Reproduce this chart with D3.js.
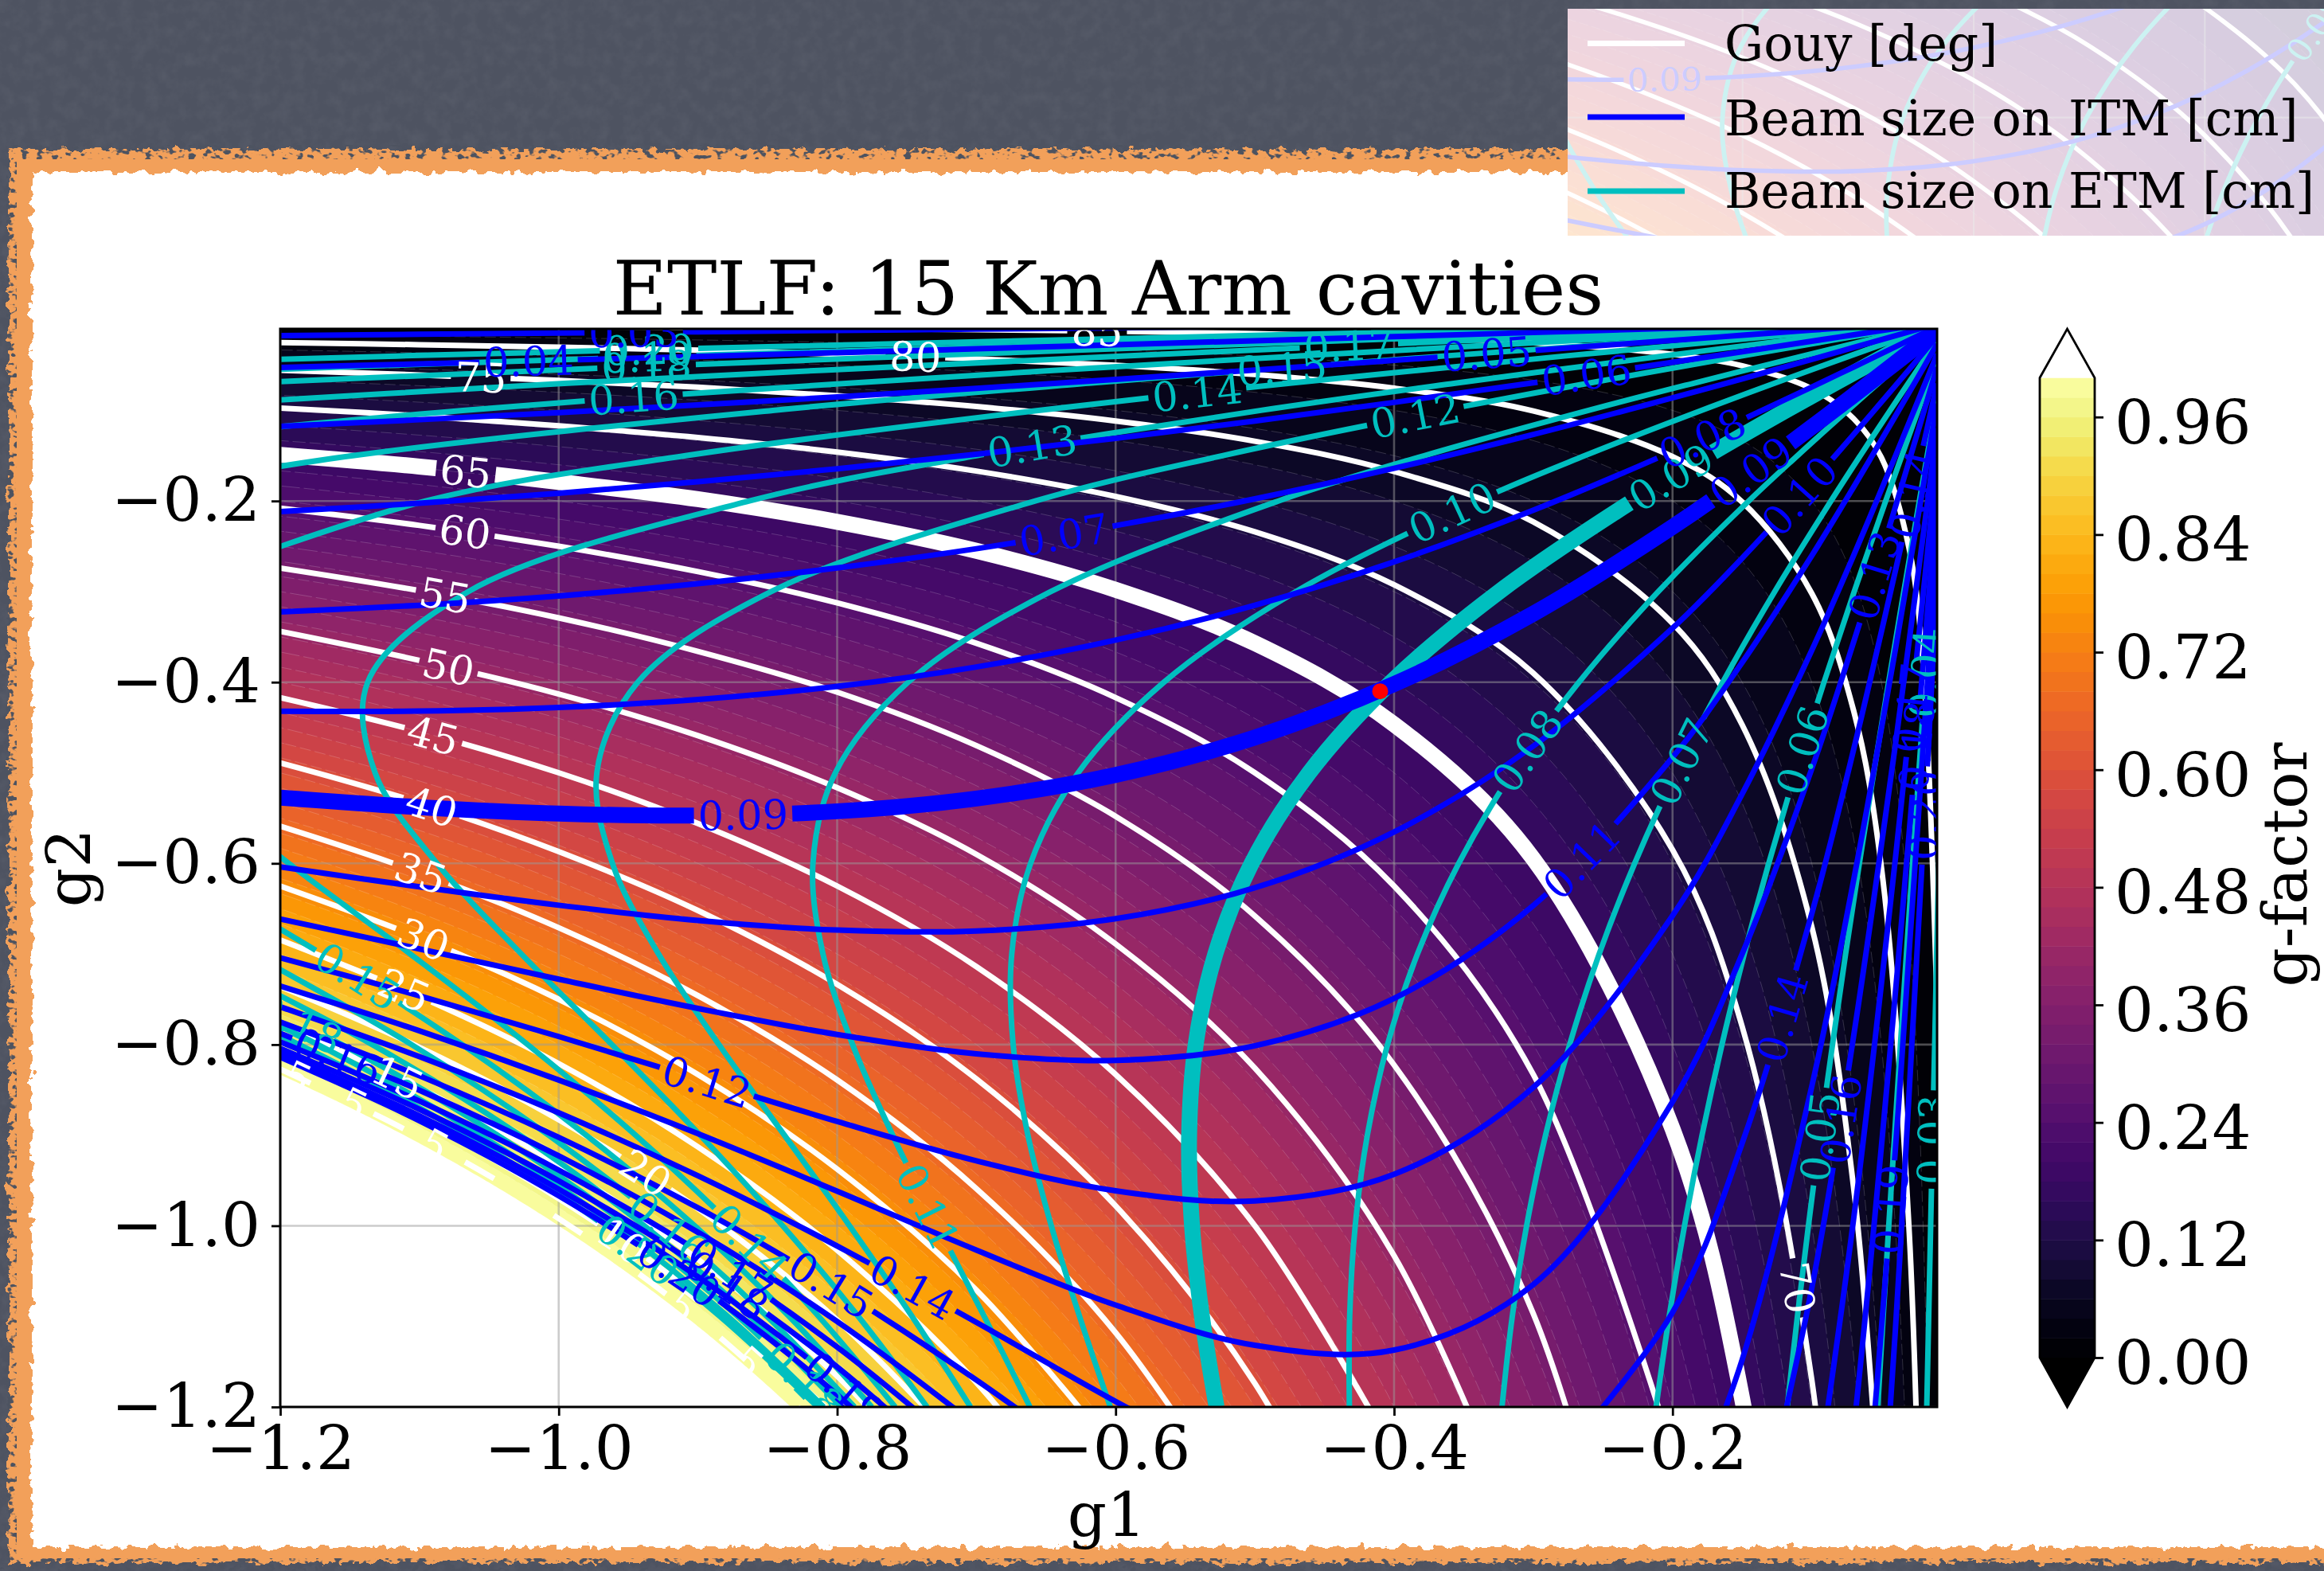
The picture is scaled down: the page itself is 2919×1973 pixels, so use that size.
<!DOCTYPE html>
<html>
<head>
<meta charset="utf-8">
<script src="https://cdn.jsdelivr.net/npm/d3@7"></script>
<style>
html,body{margin:0;padding:0;background:#4e5361;}
svg{display:block;}
text{font-family:"DejaVu Serif",serif;}
</style>
</head>
<body>
<svg id="chart" width="2919" height="1973"></svg>
<script>
///// chart data

//g-factor readings on a coarse g1/g2 grid, rows go from g2=-1.2 up to g2=-0.01
var gridG1=[-1.2,-1.1,-1.0,-0.9,-0.8,-0.7,-0.6,-0.5,-0.4,-0.3,-0.2,-0.1,-0.01];
var gridG2=[-1.2,-1.1,-1.0,-0.9,-0.8,-0.7,-0.6,-0.5,-0.4,-0.3,-0.2,-0.1,-0.01];
var gFactor=[
[1.44,1.32,1.2,1.08,.96,.84,.72,.6,.48,.36,.24,.12,.012],
[1.32,1.21,1.1,.99,.88,.77,.66,.55,.44,.33,.22,.11,.011],
[1.2,1.1,1,.9,.8,.7,.6,.5,.4,.3,.2,.1,.01],
[1.08,.99,.9,.81,.72,.63,.54,.45,.36,.27,.18,.09,.009],
[.96,.88,.8,.72,.64,.56,.48,.4,.32,.24,.16,.08,.008],
[.84,.77,.7,.63,.56,.49,.42,.35,.28,.21,.14,.07,.007],
[.72,.66,.6,.54,.48,.42,.36,.3,.24,.18,.12,.06,.006],
[.6,.55,.5,.45,.4,.35,.3,.25,.2,.15,.1,.05,.005],
[.48,.44,.4,.36,.32,.28,.24,.2,.16,.12,.08,.04,.004],
[.36,.33,.3,.27,.24,.21,.18,.15,.12,.09,.06,.03,.003],
[.24,.22,.2,.18,.16,.14,.12,.1,.08,.06,.04,.02,.002],
[.12,.11,.1,.09,.08,.07,.06,.05,.04,.03,.02,.01,.001],
[.012,.011,.01,.009,.008,.007,.006,.005,.004,.003,.002,.001,.0001]
];
var bandLevels=[0,.02,.04,.06,.08,.1,.12,.14,.16,.18,.2,.22,.24,.26,.28,.3,.32,.34,.36,.38,.4,.42,.44,.46,.48,.5,.52,.54,.56,.58,.6,.62,.64,.66,.68,.7,.72,.74,.76,.78,.8,.82,.84,.86,.88,.9,.92,.94,.96,.98];

//Gouy contours: |g2| at the |g1| positions in gouyAt
var gouyAt=[1.2,1.1,1.0,.9,.8,.7,.6,.5,.4,.3,.2,.15,.1,.07,.05,.03,.02,.01];
var gouy05=[.827,.902,.992,1.103,1.2405];
var gouy10=[.808,.882,.970,1.078,1.212];
var gouy15=[.7775,.848,.933,1.037,1.166,1.333];
var gouy20=[.736,.803,.883,.981,1.104,1.261];
var gouy25=[.6845,.747,.821,.913,1.027,1.173,1.369];
var gouy30=[.625,.682,.75,.833,.9375,1.071,1.25];
var gouy35=[.559,.610,.671,.746,.839,.959,1.118,1.342];
var gouy40=[.489,.533,.587,.652,.7335,.838,.978,1.174,1.467];
var gouy45=[.417,.4545,.5,.556,.625,.714,.833,1.0,1.25];
var gouy50=[.344,.376,.413,.459,.5165,.590,.689,.826,1.033,1.377];
var gouy55=[.274,.299,.329,.366,.411,.470,.548,.658,.8225,1.097,1.645];
var gouy60=[.208,.227,.25,.278,.3125,.357,.417,.5,.625,.833,1.25];
var gouy65=[.149,.162,.179,.198,.223,.255,.298,.357,.4465,.595,.893,1.191,1.786];
var gouy70=[.0975,.106,.117,.130,.146,.167,.195,.234,.2925,.39,.585,.78,1.17,1.671];
var gouy75=[.0558,.0609,.067,.0744,.0838,.0957,.1117,.134,.1675,.223,.335,.447,.67,.957,1.34];
var gouy80=[.0252,.0275,.0302,.0336,.0378,.0431,.0503,.0604,.0755,.1007,.151,.201,.302,.431,.604,1.007,1.51];
var gouy85=[.0063,.0069,.0076,.0084,.0095,.0109,.0127,.0152,.019,.0253,.038,.0507,.076,.109,.152,.253,.38,.76];
var gouyLevels=[5,10,15,20,25,30,35,40,45,50,55,60,65,70,75,80,85];
var gouySeries=[gouy05,gouy10,gouy15,gouy20,gouy25,gouy30,gouy35,gouy40,gouy45,gouy50,gouy55,gouy60,gouy65,gouy70,gouy75,gouy80,gouy85];

//beam size contours. ITM curve: |g1|=beamAt, |g2|=value. the ETM curves are the same
//numbers with the axes swapped, the two families mirror each other in the picture.
//null = off the plot
var beamAt=[1.2,1.1,1.0,.9,.8,.7,.6,.5,.4,.3,.2,.15,.1,.07,.04,.02,.01];
var beam03=[.0174,.0160,.0146,.0132,.0117,.0103,.0088,.0074,.0059,.0044,.0030,.0022,.0015,.0010,.0006,.0003,.0001];
var beam04=[.0526,.0487,.0447,.0405,.0363,.0320,.0276,.0231,.0186,.0140,.0093,.0070,.0047,.0033,.0019,.0009,.0005];
var beam05=[.1176,.1103,.1024,.0940,.0851,.0757,.0658,.0555,.0448,.0339,.0227,.0171,.0114,.0080,.0046,.0023,.0011];
var beam06=[.2118,.2024,.1914,.1788,.1645,.1485,.1309,.1117,.0912,.0695,.0469,.0353,.0236,.0166,.0095,.0047,.0024];
var beam07=[.3225,.3151,.3048,.2912,.2739,.2527,.2272,.1976,.1639,.1266,.0862,.0652,.0437,.0306,.0175,.0088,.0044];
var beam08=[.4321,.4319,.4279,.4192,.4047,.3832,.3536,.3151,.2672,.2102,.1453,.1103,.0742,.0522,.0299,.0150,.0075];
var beam09=[.5275,.5380,.5451,.5472,.5425,.5284,.5023,.4610,.4021,.3244,.2286,.1750,.1184,.0834,.0478,.0240,.0120];
var beam10=[.6038,.6259,.6462,.6630,.6736,.6746,.6611,.6269,.5653,.4705,.3404,.2631,.1793,.1267,.0728,.0365,.0183];
var beam11=[.6615,.6944,.7278,.7601,.7889,.8102,.8174,.8013,.7490,.6465,.4831,.3783,.2604,.1848,.1065,.0534,.0267];
var beam12=[.7042,.7462,.7911,.8379,.8849,.9283,.9614,.9726,.9432,.8473,.6577,.5234,.3649,.2603,.1506,.0756,.0379];
var beam13=[.7354,.7848,.8391,.8984,.9618,1.0268,1.0875,1.1319,1.1372,1.0649,.8631,.7001,.4957,.3560,.2069,.1041,.0522];
var beam14=[.7583,.8133,.8752,.9448,1.0223,1.1066,1.1939,1.2738,null,1.2901,1.0956,.9089,.6555,.4748,.2775,.1399,.0702];
var beam15=[.7751,.8345,.9024,.9802,1.0693,1.1702,1.2816,null,null,null,1.3498,1.1479,.8463,.6191,.3644,.1842,.0924];
var beam16=[.7876,.8504,.9229,1.0072,1.1057,1.2204,null,null,null,null,null,1.4143,1.0689,.7914,.4697,.2382,.1196];
var beam17=[.7970,.8624,.9385,1.0279,1.1339,1.2600,null,null,null,null,null,null,1.3234,.9934,.5956,.3032,.1523];
var beam18=[.8042,.8715,.9504,1.0439,1.1558,1.2911,null,null,null,null,null,null,1.6087,1.2268,.7440,.3805,.1913];
var beam19=[.8097,.8786,.9597,1.0563,1.1730,1.3157,null,null,null,null,null,null,null,1.4919,.9171,.4715,.2374];
var beam20=[.8140,.8841,.9669,1.0660,1.1865,1.3353,null,null,null,null,null,null,null,1.7891,1.1166,.5776,.2914];
var beamLevels=[.03,.04,.05,.06,.07,.08,.09,.10,.11,.12,.13,.14,.15,.16,.17,.18,.19,.20];
var beamSeries=[beam03,beam04,beam05,beam06,beam07,beam08,beam09,beam10,beam11,beam12,beam13,beam14,beam15,beam16,beam17,beam18,beam19,beam20];

//inline contour labels: level, g1, g2
var gouyLabels=[[85,-.614,-.0124],[80,-.743,-.0406],[75,-1.057,-.0634],[70,-.109,-1.07],[65,-1.068,-.167],[60,-1.068,-.234],[55,-1.08,-.305],[50,-1.08,-.383],[45,-1.091,-.458],[40,-1.091,-.538],[35,-1.098,-.611],[30,-1.098,-.683],[25,-1.112,-.739],[20,-.937,-.942],[15,-1.116,-.836],[10,-.955,-1.016],[5,-1.187,-.836],[5,-1.148,-.864],[5,-1.088,-.912],[5,-.911,-1.089],[5,-.864,-1.149]];
var itmLabels=[[.03,-.947,-.0137],[.04,-1.02,-.045],[.05,-.335,-.038],[.06,-.262,-.061],[.07,-.636,-.237],[.08,-.178,-.13],[.09,-.866,-.547],[.09,-.143,-.168],[.10,-.11,-.196],[.11,-.27,-.59],[.12,-.893,-.838],[.13,-.059,-.282],[.14,-.743,-1.065],[.14,-.12,-.77],[.14,-.0275,-.19],[.15,-.803,-1.065],[.16,-1.158,-.815],[.16,-.082,-.883],[.17,-.875,-1.05],[.17,-.03,-.43],[.18,-.88,-1.066],[.18,-.025,-.47],[.19,-.795,-1.18],[.19,-.043,-.98],[.20,-.913,-1.05],[.20,-.019,-.545]];
var etmLabels=[[.03,-.0133,-.906],[.04,-.0188,-.391],[.05,-.0934,-.904],[.06,-.1075,-.473],[.07,-.193,-.487],[.08,-.305,-.476],[.09,-.20,-.174],[.10,-.358,-.212],[.11,-.733,-.979],[.12,-.384,-.102],[.13,-.66,-.137],[.14,-.54,-.079],[.14,-.862,-1.018],[.15,-.48,-.051],[.15,-1.14,-.718],[.16,-.947,-.083],[.16,-.92,-1.0],[.17,-.432,-.029],[.18,-.936,-.05],[.18,-1.186,-.771],[.18,-.824,-1.17],[.19,-.936,-.041],[.20,-.936,-.032],[.20,-.945,-1.03]];

var axisTicks=[-1.2,-1.0,-0.8,-0.6,-0.4,-0.2];
var colorbarTicks=[0,.12,.24,.36,.48,.6,.72,.84,.96];
var designPoint=[-.41,-.41];
var legendLabels=["Gouy [deg]","Beam size on ITM [cm]","Beam size on ETM [cm]"];

///some constance:
var blue="#0000ff",cyan="#00bfbf",thin=7,thick=20,labelSize=51,tickSize=77;
var plot={left:352,right:2433,top:413,bottom:1767};
var svg=d3.select("#chart");
var defs=svg.append("defs");

var x=d3.scaleLinear().domain([-1.2,-0.01]).range([plot.left,plot.right]);
var y=d3.scaleLinear().domain([-1.2,-0.01]).range([plot.bottom,plot.top]);

/////slide background and torn frame
var noise=defs.append("filter").attr("id","chalk").attr("x",0).attr("y",0).attr("width",1).attr("height",1);
noise.append("feTurbulence").attr("type","fractalNoise").attr("baseFrequency","0.06").attr("numOctaves",4).attr("seed",4);
noise.append("feColorMatrix").attr("values","0 0 0 0 1  0 0 0 0 1  0 0 0 0 1  .9 0 0 0 -.33");
var rough=defs.append("filter").attr("id","rough").attr("x","-2%").attr("y","-2%").attr("width","104%").attr("height","104%");
rough.append("feTurbulence").attr("type","fractalNoise").attr("baseFrequency","0.07").attr("numOctaves",3).attr("seed",9).attr("result","n");
rough.append("feDisplacementMap").attr("in","SourceGraphic").attr("in2","n").attr("scale",16).attr("xChannelSelector","R").attr("yChannelSelector","G");
var speck=defs.append("filter").attr("id","speck").attr("x",0).attr("y",0).attr("width",1).attr("height",1);
speck.append("feTurbulence").attr("type","fractalNoise").attr("baseFrequency","0.11 0.16").attr("numOctaves",2).attr("seed",3).attr("result","n");
speck.append("feColorMatrix").attr("in","n").attr("values","0 0 0 0 0  0 0 0 0 0  0 0 0 0 0  9 0 0 0 -4.9").attr("result","m");
speck.append("feComposite").attr("in","SourceGraphic").attr("in2","m").attr("operator","in");

svg.append("rect").attr("width",2919).attr("height",1973).attr("fill","#4e5361");
svg.append("rect").attr("width",2919).attr("height",1973).attr("fill","#fff").attr("filter","url(#chalk)").attr("opacity",.09);
svg.append("rect").attr("x",11).attr("y",187).attr("width",3000).attr("height",1776).attr("fill","#f2a05a").attr("filter","url(#rough)");
svg.append("rect").attr("x",8).attr("y",182).attr("width",2911).attr("height",18).attr("fill","#4e5361").attr("filter","url(#speck)");
svg.append("rect").attr("x",8).attr("y",186).attr("width",13).attr("height",1787).attr("fill","#4e5361").attr("filter","url(#speck)");
svg.append("rect").attr("x",0).attr("y",1957).attr("width",2919).attr("height",16).attr("fill","#4e5361").attr("filter","url(#speck)");
svg.append("rect").attr("x",40).attr("y",216).attr("width",3000).attr("height",1727).attr("fill","#fff").attr("filter","url(#rough)");

/////the plot body, also reused faded under the legend box
defs.append("clipPath").attr("id","axClip").append("rect")
	.attr("x",plot.left).attr("y",plot.top).attr("width",plot.right-plot.left).attr("height",plot.bottom-plot.top);
var body=defs.append("g").attr("id","plotBody").attr("clip-path","url(#axClip)");

body.append("rect").attr("x",plot.left).attr("y",plot.top).attr("width",plot.right-plot.left).attr("height",plot.bottom-plot.top).attr("fill",d3.interpolateInferno(.01));

//resample the coarse grid so the band edges stay smooth
var n=240;
var fine=d3.scaleLinear().domain([0,n-1]).range([-1.2,-0.01]);
function cellOf(list,v){
	return Math.max(0,Math.min(list.length-2,d3.bisectRight(list,v)-1));
}
function readField(g1,g2){
	var i=cellOf(gridG1,g1),j=cellOf(gridG2,g2);
	var a=(g1-gridG1[i])/(gridG1[i+1]-gridG1[i]);
	var b=(g2-gridG2[j])/(gridG2[j+1]-gridG2[j]);
	return (1-b)*((1-a)*gFactor[j][i]+a*gFactor[j][i+1])+b*((1-a)*gFactor[j+1][i]+a*gFactor[j+1][i+1]);
}
var values=new Array(n*n);
for(var j=0;j<n;j++){
	for(var i=0;i<n;i++){
		values[i+n*j]=readField(fine(i),fine(j));
	}
}
var contourMaker=d3.contours().size([n,n]).thresholds(bandLevels.slice(1).concat([1]));
var bandShapes=contourMaker(values);
var toPixels=d3.geoTransform({point:function(a,b){this.stream.point(x(fine(a-.5)),y(fine(b-.5)));}});
var bandPath=d3.geoPath(toPixels);

body.selectAll("path.band").data(bandShapes).enter().append("path")
	.attr("class","band")
	.attr("d",bandPath)
	.attr("fill",function(d){return d.value>=.999?"#fff":d3.interpolateInferno(d.value+.01);});
//faint seams between the filled levels
body.selectAll("path.seam").data(bandShapes).enter().append("path")
	.attr("class","seam")
	.attr("d",bandPath)
	.attr("fill","none")
	.attr("stroke","#fff")
	.attr("stroke-opacity",.2)
	.attr("stroke-width",.9)
	.attr("stroke-dasharray","14 5");

//grid
body.selectAll("line.gx").data(axisTicks).enter().append("line").attr("class","gx")
	.attr("x1",x).attr("x2",x).attr("y1",plot.top).attr("y2",plot.bottom)
	.attr("stroke","#999").attr("stroke-opacity",.5).attr("stroke-width",2.6);
body.selectAll("line.gy").data(axisTicks).enter().append("line").attr("class","gy")
	.attr("y1",y).attr("y2",y).attr("x1",plot.left).attr("x2",plot.right)
	.attr("stroke","#999").attr("stroke-opacity",.5).attr("stroke-width",2.6);

/////contour lines
var lineGen=d3.line().x(function(d){return x(d[0]);}).y(function(d){return y(d[1]);}).curve(d3.curveCatmullRom);
var gouyG=body.append("g"),etmG=body.append("g"),itmG=body.append("g"),textG=body.append("g");

//a series can leave the plot and come back, every visible stretch gets its own path
function branches(at,vals,swapped){
	var out=[],cur=[];
	vals.forEach(function(v,k){
		if(v==null){
			if(cur.length>1)out.push(cur);
			cur=[];
		}
		else cur.push(swapped?[-v,-at[k]]:[-at[k],-v]);
	});
	if(cur.length>1)out.push(cur);
	return out;
}
function drawFamily(g,levels,series,at,swapped,color,thickLevel){
	var paths=[];
	levels.forEach(function(level,k){
		branches(at,series[k],swapped).forEach(function(pts){
			var p=g.append("path")
				.attr("d",lineGen(pts))
				.attr("fill","none")
				.attr("stroke",color)
				//--fat is overridden on the faded copy, it shows no thick lines
				.style("stroke-width",level===thickLevel?"var(--fat,"+thick+"px)":thin+"px");
			paths.push({level:level,node:p.node(),gaps:[]});
		});
	});
	return paths;
}
var gouyPaths=drawFamily(gouyG,gouyLevels,gouySeries,gouyAt,false,"#fff",65);
var etmPaths=drawFamily(etmG,beamLevels,beamSeries,beamAt,true,cyan,.09);
var itmPaths=drawFamily(itmG,beamLevels,beamSeries,beamAt,false,blue,.09);

//put each label on its curve, turn it along the curve and break the line under it
function placeLabels(labels,paths,color,format){
	labels.forEach(function(l){
		var px=x(l[1]),py=y(l[2]),best=null;
		paths.filter(function(p){return p.level===l[0];}).forEach(function(p){
			var total=p.node.getTotalLength();
			for(var s=0;s<=total;s+=6){
				var q=p.node.getPointAtLength(s);
				var dist=(q.x-px)*(q.x-px)+(q.y-py)*(q.y-py);
				if(best==null||dist<best.dist)best={dist:dist,s:s,path:p,q:q};
			}
		});
		if(!best)return;
		var total=best.path.node.getTotalLength();
		var a=best.path.node.getPointAtLength(Math.max(0,best.s-20));
		var b=best.path.node.getPointAtLength(Math.min(total,best.s+20));
		var angle=Math.atan2(b.y-a.y,b.x-a.x)*180/Math.PI;
		if(angle>90)angle-=180;
		if(angle<-90)angle+=180;
		var t=textG.append("text")
			.attr("transform","translate("+best.q.x+","+best.q.y+") rotate("+angle+")")
			.attr("dy",".36em")
			.attr("text-anchor","middle")
			.attr("font-size",labelSize)
			.attr("fill",color)
			.text(format(l[0]));
		best.path.gaps.push([best.s,t.node().getComputedTextLength()+10]);
	});
	paths.forEach(function(p){
		if(!p.gaps.length)return;
		p.gaps.sort(function(u,v){return u[0]-v[0];});
		var dash=[],pos=0;
		p.gaps.forEach(function(g){
			var start=g[0]-g[1]/2;
			dash.push(Math.max(0,start-pos),g[1]);
			pos=g[0]+g[1]/2;
		});
		dash.push(100000,0);
		d3.select(p.node).attr("stroke-dasharray",dash.join(" "));
	});
}
placeLabels(gouyLabels,gouyPaths,"#fff",d3.format("d"));
placeLabels(etmLabels,etmPaths,cyan,d3.format(".2f"));
placeLabels(itmLabels,itmPaths,blue,d3.format(".2f"));
//the 5 deg line is broken up by its many labels, only short bits are left
d3.select(gouyPaths[0].node).attr("stroke-dasharray","42 88");

body.append("circle").attr("cx",x(designPoint[0])).attr("cy",y(designPoint[1])).attr("r",10).attr("fill","#ff0000");

svg.append("use").attr("href","#plotBody");

/////axes
svg.append("rect").attr("x",plot.left).attr("y",plot.top).attr("width",plot.right-plot.left).attr("height",plot.bottom-plot.top)
	.attr("fill","none").attr("stroke","#000").attr("stroke-width",3);
var xAxis=d3.axisBottom(x).tickValues(axisTicks).tickFormat(d3.format(".1f")).tickSize(11).tickPadding(12);
var yAxis=d3.axisLeft(y).tickValues(axisTicks).tickFormat(d3.format(".1f")).tickSize(11).tickPadding(14);
var xg=svg.append("g").attr("transform","translate(0,"+plot.bottom+")").call(xAxis);
var yg=svg.append("g").attr("transform","translate("+plot.left+",0)").call(yAxis);
[xg,yg].forEach(function(g){
	g.select(".domain").remove();
	g.selectAll("line").attr("stroke","#000").attr("stroke-width",2.8);
	g.selectAll("text").attr("font-size",tickSize).attr("font-family","DejaVu Serif").attr("fill","#000");
});

svg.append("text").attr("x",1392).attr("y",395).attr("text-anchor","middle").attr("font-size",93.5).text("ETLF: 15 Km Arm cavities");
svg.append("text").attr("x",1390).attr("y",1929).attr("text-anchor","middle").attr("font-size",tickSize).text("g1");
svg.append("text").attr("transform","translate(113,1090) rotate(-90)").attr("text-anchor","middle").attr("font-size",tickSize).text("g2");

/////colorbar
var bar={left:2562,right:2631,top:474.5,bottom:1705,tipTop:413,tipBottom:1767};
var cy=d3.scaleLinear().domain([0,1]).range([bar.bottom,bar.top]);
svg.selectAll("rect.cb").data(bandLevels).enter().append("rect").attr("class","cb")
	.attr("x",bar.left).attr("width",bar.right-bar.left)
	.attr("y",function(d){return cy(d+.02);})
	.attr("height",function(d){return cy(d)-cy(d+.02)+.5;})
	.attr("fill",function(d){return d3.interpolateInferno(d+.01);});
var mid=(bar.left+bar.right)/2;
svg.append("path").attr("d","M"+bar.left+","+bar.top+"L"+mid+","+bar.tipTop+"L"+bar.right+","+bar.top+"Z").attr("fill","#fff");
svg.append("path").attr("d","M"+bar.left+","+bar.bottom+"L"+mid+","+bar.tipBottom+"L"+bar.right+","+bar.bottom+"Z").attr("fill","#000");
svg.append("path").attr("d","M"+bar.left+","+bar.top+"L"+mid+","+bar.tipTop+"L"+bar.right+","+bar.top+"L"+bar.right+","+bar.bottom+"L"+mid+","+bar.tipBottom+"L"+bar.left+","+bar.bottom+"Z")
	.attr("fill","none").attr("stroke","#000").attr("stroke-width",2.8);
var cbAxis=d3.axisRight(cy).tickValues(colorbarTicks).tickFormat(d3.format(".2f")).tickSize(11).tickPadding(14);
var cg=svg.append("g").attr("transform","translate("+bar.right+",0)").call(cbAxis);
cg.select(".domain").remove();
cg.selectAll("line").attr("stroke","#000").attr("stroke-width",2.8);
cg.selectAll("text").attr("font-size",tickSize).attr("font-family","DejaVu Serif").attr("fill","#000").attr("dy","0.42em");
svg.append("text").attr("transform","translate(2897,1086) rotate(-90)").attr("text-anchor","middle").attr("font-size",tickSize).text("g-factor");

/////legend box, sits on a faded squeezed copy of the plot
var box={x:1969,y:11,w:950,h:285};
defs.append("clipPath").attr("id","legendClip").append("rect").attr("x",box.x).attr("y",box.y).attr("width",box.w).attr("height",box.h);
var legend=svg.append("g").attr("clip-path","url(#legendClip)");
legend.append("rect").attr("x",box.x).attr("y",box.y).attr("width",box.w).attr("height",box.h).attr("fill","#fff");
legend.append("use").attr("href","#plotBody").attr("transform","translate(1316,-709) scale(.83,.79)").style("--fat",thin+"px");
legend.append("rect").attr("x",box.x).attr("y",box.y).attr("width",box.w).attr("height",box.h).attr("fill","#fff").attr("opacity",.8);
var legendColors=["#fff",blue,cyan];
var legendLineY=[54.5,147,240];
var legendTextY=[76,170,261];
legendLabels.forEach(function(label,k){
	legend.append("line").attr("x1",1994).attr("x2",2116).attr("y1",legendLineY[k]).attr("y2",legendLineY[k])
		.attr("stroke",legendColors[k]).attr("stroke-width",thin);
	legend.append("text").attr("x",2166).attr("y",legendTextY[k]).attr("font-size",61.5).attr("fill","#000").text(label);
});
</script>
</body>
</html>
